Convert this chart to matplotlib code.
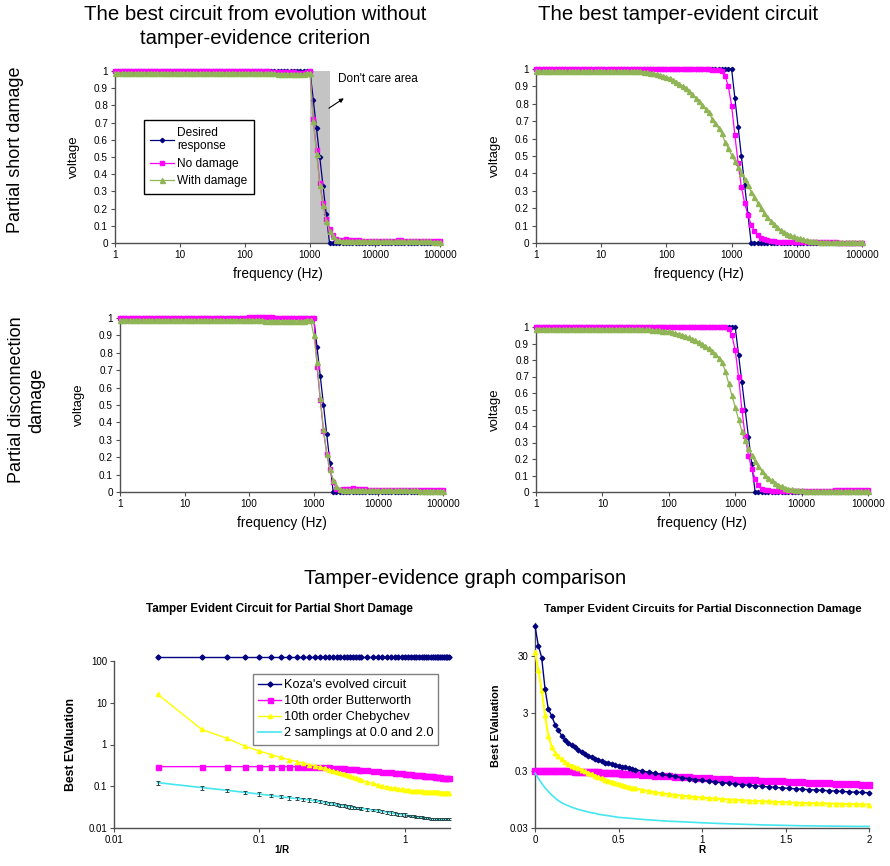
import numpy as np
import matplotlib
matplotlib.use('Agg')
import matplotlib.pyplot as plt
from matplotlib.ticker import NullLocator

plt.rcParams['font.family'] = ['Liberation Sans', 'DejaVu Sans']

# ---------------- data: frequency responses (20 samples per decade, 1 Hz .. 100 kHz)
freq = np.logspace(0, 5, 101)

desired = [
    1, 1, 1, 1, 1, 1, 1, 1, 1, 1, 1, 1, 1, 1, 1, 1, 1, 1, 1, 1,
    1, 1, 1, 1, 1, 1, 1, 1, 1, 1, 1, 1, 1, 1, 1, 1, 1, 1, 1, 1,
    1, 1, 1, 1, 1, 1, 1, 1, 1, 1, 1, 1, 1, 1, 1, 1, 1, 1, 1, 1,
    1, .833, .667, .5, .333, .167, 0, 0, 0, 0, 0, 0, 0, 0, 0, 0, 0, 0, 0, 0,
    0, 0, 0, 0, 0, 0, 0, 0, 0, 0, 0, 0, 0, 0, 0, 0, 0, 0, 0, 0,
    0]

# evolved without tamper-evidence, partial short damage
short_evo_nodmg = [
    1, 1, 1, 1, 1, 1, 1, 1, 1, 1, 1, 1, 1, 1, 1, 1, 1, 1, 1, 1,
    1, 1, 1, 1, 1, 1, 1, 1, 1, 1, 1, 1, 1, 1, 1, 1, 1, 1, 1, 1,
    1, 1, 1, 1, 1, 1, 1, 1, .995, .995, .995, .995, .995, .995, .995, .995, .99, .99, .99, .995,
    1, .72, .54, .35, .23, .14, .08, .045, .025, .02, .02, .022, .02, .02, .018, .015, .013, .012, .011, .01,
    .01, .01, .01, .011, .012, .013, .014, .015, .015, .014, .013, .012, .012, .011, .011, .01, .01, .01, .01, .01,
    .01]
short_evo_dmg = [
    .99, .99, .99, .99, .99, .99, .99, .99, .99, .99, .99, .99, .99, .99, .99, .99, .99, .99, .99, .99,
    .99, .99, .99, .99, .99, .99, .99, .99, .99, .99, .99, .99, .99, .99, .99, .99, .99, .99, .99, .99,
    .99, .99, .99, .99, .99, .988, .988, .988, .988, .988, .985, .985, .985, .985, .985, .985, .98, .98, .985, .99,
    .99, .71, .52, .34, .22, .13, .07, .04, .02, .015, .013, .012, .012, .012, .012, .012, .012, .012, .012, .012,
    .011, .011, .01, .01, .01, .01, .01, .01, .01, .01, .01, .01, .01, .01, .009, .009, .009, .009, .008, .008,
    .008]

# tamper-evident circuit, partial short damage
short_te_nodmg = [
    1, 1, 1, 1, 1, 1, 1, 1, 1, 1, 1, 1, 1, 1, 1, 1, 1, 1, 1, 1,
    1, 1, 1, 1, 1, 1, 1, 1, 1, 1, 1, 1, 1, 1, 1, 1, 1, 1, 1, 1,
    1, 1, 1, 1, 1, 1, 1, 1, 1, 1, 1, 1, 1, 1, .997, .995, .995, .99, .96, .90,
    .79, .62, .46, .32, .23, .16, .105, .07, .045, .03, .022, .016, .012, .01, .008, .007, .006, .005, .005, .004,
    .004, .004, .004, .004, .003, .003, .003, .003, .003, .003, .003, .003, .003, .002, .002, .002, .002, .002, .002, .002,
    .002]
short_te_dmg = [
    .99, .99, .99, .99, .99, .99, .99, .99, .99, .99, .99, .99, .99, .99, .99, .99, .99, .99, .99, .99,
    .99, .99, .99, .99, .99, .99, .99, .99, .99, .99, .99, .99, .987, .985, .982, .979, .975, .971, .966, .961,
    .955, .947, .938, .928, .916, .903, .888, .872, .855, .835, .815, .795, .772, .75, .715, .69, .66, .63, .58, .545,
    .505, .47, .438, .405, .368, .332, .295, .263, .23, .20, .172, .15, .128, .11, .09, .077, .065, .054, .045, .038,
    .031, .026, .021, .017, .014, .011, .009, .008, .007, .006, .005, .005, .004, .004, .004, .004, .003, .003, .003, .003,
    .003]

# evolved without tamper-evidence, partial disconnection damage
disc_evo_nodmg = [
    1, 1, 1, 1, 1, 1, 1, 1, 1, 1, 1, 1, 1, 1, 1, 1, 1, 1, 1, 1,
    1, 1, 1, 1, 1, 1, 1, 1, 1, 1, 1, 1, 1, 1, 1, 1, 1, 1, 1, 1,
    1.003, 1.003, 1.003, 1.003, 1.003, 1.003, 1.003, 1.003, 1, 1, 1, 1, 1, 1, 1, 1, 1, 1, 1, 1,
    1, .72, .53, .35, .22, .13, .06, .02, .01, .015, .02, .02, .022, .02, .02, .018, .015, .012, .01, .01,
    .01, .01, .01, .01, .01, .01, .01, .011, .011, .012, .012, .012, .012, .011, .011, .01, .01, .01, .01, .01,
    .01]
disc_evo_dmg = [
    .99, .99, .99, .99, .99, .99, .99, .99, .99, .99, .99, .99, .99, .99, .99, .99, .99, .99, .99, .99,
    .99, .99, .99, .99, .99, .99, .99, .99, .99, .99, .99, .99, .99, .99, .99, .99, .99, .99, .99, .99,
    .99, .99, .99, .99, .99, .985, .985, .985, .985, .985, .985, .985, .985, .985, .985, .985, .98, .985, .99, .99,
    .90, .75, .54, .36, .22, .13, .07, .035, .015, .01, .01, .01, .01, .01, .01, .01, .01, .01, .01, .01,
    .01, .01, .01, .01, .01, .009, .009, .009, .009, .009, .009, .009, .009, .008, .008, .008, .008, .008, .008, .008,
    .008]

# tamper-evident circuit, partial disconnection damage
disc_te_nodmg = [
    1, 1, 1, 1, 1, 1, 1, 1, 1, 1, 1, 1, 1, 1, 1, 1, 1, 1, 1, 1,
    1, 1, 1, 1, 1, 1, 1, 1, 1, 1, 1, 1, 1, 1, 1, 1, 1, 1, 1, 1.003,
    1.003, 1.003, 1.003, 1.003, 1.003, 1.003, 1.003, 1, 1, 1, 1, 1, 1, 1, 1, 1, 1, 1, .99, .95,
    .86, .70, .50, .34, .22, .14, .08, .04, .02, .012, .01, .009, .008, .008, .008, .008, .008, .008, .008, .008,
    .008, .008, .008, .008, .008, .009, .009, .009, .009, .009, .01, .01, .01, .01, .01, .01, .01, .01, .01, .01,
    .01]
disc_te_dmg = [
    .99, .99, .99, .99, .99, .99, .99, .99, .99, .99, .99, .99, .99, .99, .99, .99, .99, .99, .99, .99,
    .99, .99, .99, .99, .99, .99, .99, .99, .99, .99, .99, .99, .988, .986, .985, .983, .981, .979, .977, .975,
    .973, .969, .964, .958, .952, .945, .937, .929, .92, .909, .897, .884, .87, .855, .838, .815, .785, .735, .66, .585,
    .515, .44, .37, .315, .268, .222, .185, .155, .128, .105, .087, .07, .056, .045, .035, .027, .021, .017, .014, .012,
    .01, .009, .009, .008, .008, .008, .007, .007, .007, .007, .006, .006, .006, .006, .006, .006, .006, .006, .006, .006,
    .006]

# ---------------- data: tamper-evidence comparison, partial short damage (x = 1/R)
inv_r = [0.02, 0.04, 0.06, 0.08, 0.10, 0.12, 0.14, 0.16, 0.18, 0.20, 0.22, 0.24, 0.26, 0.28, 0.30,
         0.32, 0.34, 0.36, 0.38, 0.40, 0.42, 0.44, 0.46, 0.48, 0.50,
         0.55, 0.60, 0.65, 0.70, 0.75, 0.80, 0.85, 0.90, 0.95, 1.00, 1.05, 1.10, 1.15, 1.20, 1.25,
         1.30, 1.35, 1.40, 1.45, 1.50, 1.55, 1.60, 1.65, 1.70, 1.75, 1.80, 1.85, 1.90, 1.95, 2.00]
short_koza = [128] * 55
short_butter = [.295, .295, .295, .295, .295, .295, .295, .295, .295, .295, .293, .29, .288, .285, .282,
                .278, .275, .271, .267, .263, .26, .256, .253, .25, .247,
                .241, .235, .229, .224, .219, .215, .211, .207, .204, .20, .197, .194, .191, .188, .185,
                .182, .18, .178, .176, .174, .172, .17, .168, .166, .164, .162, .161, .16, .159, .158]
short_cheby = [16, 2.3, 1.4, .9, .70, .57, .49, .43, .39, .36, .33, .31, .29, .27, .25,
               .235, .222, .21, .197, .185, .175, .165, .155, .147, .14,
               .127, .117, .108, .101, .096, .092, .089, .086, .084, .082, .081, .079, .078, .077, .076,
               .075, .0745, .074, .0735, .073, .0725, .072, .0715, .071, .0708, .0705, .0703, .070, .070, .070]
short_two = [.122, .093, .080, .071, .065, .060, .056, .053, .051, .049, .047, .045, .043, .041, .039,
             .038, .036, .035, .034, .033, .032, .031, .0305, .030, .0295,
             .028, .027, .026, .025, .024, .023, .0222, .0215, .021, .0205, .020, .0195, .019, .0186, .0182,
             .0179, .0176, .0173, .017, .0168, .0166, .0165, .0164, .0163, .0163, .0162, .0162, .0162, .0162, .0162]
short_two_err = [.015, .010, .008, .007, .006, .006, .005, .005, .005, .004, .004, .004, .004, .004, .003,
                 .003, .003, .003, .003, .003, .003, .002, .002, .002, .002,
                 .002, .002, .002, .002, .002, .002, .002, .002, .002, .002, .001, .001, .001, .001, .001,
                 .001, .001, .001, .001, .001, .001, .001, .001, .001, .001, .001, .001, .001, .001, .001]

# ---------------- data: tamper-evidence comparison, partial disconnection damage (x = R)
r_vals = [0.00, 0.02, 0.04, 0.06, 0.08, 0.10, 0.12, 0.14, 0.16, 0.18, 0.20, 0.22, 0.24, 0.26, 0.28, 0.30,
          0.32, 0.34, 0.36, 0.38, 0.40, 0.42, 0.44, 0.46, 0.48, 0.50, 0.52, 0.54, 0.56, 0.58, 0.60,
          0.64, 0.68, 0.72, 0.76, 0.80, 0.84, 0.88, 0.92, 0.96, 1.00, 1.04, 1.08, 1.12, 1.16, 1.20,
          1.24, 1.28, 1.32, 1.36, 1.40, 1.44, 1.48, 1.52, 1.56, 1.60, 1.64, 1.68, 1.72, 1.76, 1.80,
          1.84, 1.88, 1.92, 1.96, 2.00]
disc_koza = [100, 45, 28, 8, 3.5, 2.7, 1.9, 1.5, 1.22, 1.04, .92, .83, .76, .69, .63, .58,
             .54, .51, .48, .455, .435, .415, .40, .385, .372, .36, .35, .34, .33, .32, .312,
             .296, .282, .27, .258, .247, .237, .227, .218, .21, .203, .197, .191, .185, .18, .175,
             .171, .167, .163, .159, .156, .153, .15, .147, .145, .142, .14, .138, .136, .134, .132,
             .13, .128, .126, .125, .123]
disc_butter = [.30, .299, .299, .298, .297, .296, .295, .294, .293, .292, .291, .29, .289, .288, .286, .284,
               .283, .282, .28, .279, .277, .276, .274, .272, .270, .268, .266, .264, .262, .26, .258,
               .254, .25, .246, .242, .238, .234, .231, .228, .225, .222, .219, .216, .213, .211, .208,
               .206, .204, .202, .2, .198, .196, .194, .192, .19, .188, .186, .184, .182, .18, .178,
               .176, .174, .172, .17, .168]
disc_cheby = [35, 17, 7.5, 2.8, 1.2, .78, .62, .53, .47, .42, .39, .365, .345, .33, .31, .29,
              .275, .26, .245, .232, .22, .21, .20, .19, .182, .175, .168, .162, .156, .151, .147,
              .139, .132, .126, .121, .117, .113, .11, .107, .104, .102, .10, .098, .096, .094, .093,
              .091, .09, .089, .088, .087, .086, .085, .084, .083, .082, .0815, .081, .0805, .080, .0795,
              .079, .0785, .078, .0775, .077]
disc_two = [.27, .22, .18, .15, .13, .113, .10, .09, .083, .077, .073, .069, .066, .063, .061, .059,
            .057, .055, .054, .052, .051, .050, .049, .048, .047, .046, .0455, .045, .0445, .044, .0435,
            .0425, .0415, .041, .040, .0395, .039, .0385, .038, .0375, .037, .0366, .0362, .0358, .0355, .0352,
            .0349, .0346, .0343, .034, .0338, .0336, .0334, .0332, .033, .0328, .0327, .0326, .0325, .0324, .0323,
            .0322, .0321, .032, .032, .032]

# ---------------- styling
NAVY = '#000080'
MAG = '#ff00ff'
GREEN = '#8fb556'
YEL = '#ffff00'
CYAN = '#45e6ee'
AXC = '#505050'

W, H = 890, 866
fig = plt.figure(figsize=(W / 100, H / 100), dpi=100)


def rect(l, t, r, b):
    return [l / W, 1 - b / H, (r - l) / W, (b - t) / H]


def style(ax, size=7):
    for s in ['top', 'right']:
        ax.spines[s].set_visible(False)
    for s in ['left', 'bottom']:
        ax.spines[s].set_color(AXC)
        ax.spines[s].set_linewidth(1.0)
    ax.tick_params(direction='out', length=3, width=0.8, color=AXC, labelsize=size, pad=2)


def freq_panel(r, nodmg, dmg):
    ax = fig.add_axes(rect(*r))
    ax.plot(freq, desired, color=NAVY, marker='D', ms=2.2, lw=0.9, clip_on=False, zorder=3,
            label='Desired\nresponse')
    ax.plot(freq, nodmg, color=MAG, marker='s', ms=3.2, lw=0.9, mec=MAG, clip_on=False, zorder=3,
            label='No damage')
    ax.plot(freq, dmg, color=GREEN, marker='^', ms=3.6, lw=0.9, mec=GREEN, clip_on=False, zorder=3,
            label='With damage')
    ax.set_xscale('log')
    ax.set_xlim(1, 1e5)
    ax.set_ylim(0, 1)
    ax.set_xticks([1, 10, 100, 1000, 10000, 100000])
    ax.set_xticklabels(['1', '10', '100', '1000', '10000', '100000'])
    ax.xaxis.set_minor_locator(NullLocator())
    ax.set_yticks([0, .1, .2, .3, .4, .5, .6, .7, .8, .9, 1])
    ax.set_yticklabels(['0', '0.1', '0.2', '0.3', '0.4', '0.5', '0.6', '0.7', '0.8', '0.9', '1'])
    style(ax, 7.2)
    ax.set_xlabel('frequency (Hz)', fontsize=9.8, labelpad=5)
    ax.set_ylabel('voltage', fontsize=9.5, labelpad=10)
    return ax


ax1 = freq_panel((115, 71, 440, 243), short_evo_nodmg, short_evo_dmg)
ax1.axvspan(1000, 2000, color='#c4c4c4', zorder=0, lw=0)
ax1.legend(loc='upper left', bbox_to_anchor=(0.089, 0.715), fontsize=8.6, frameon=True,
           fancybox=False, edgecolor='black', framealpha=1, handlelength=2.0, handletextpad=0.25,
           labelspacing=0.45, borderpad=0.55, borderaxespad=0)
ax1.annotate('', xy=(3600, 0.85), xytext=(1800, 0.775),
             arrowprops=dict(arrowstyle='-|>', color='black', lw=0.8, mutation_scale=6))
ax1.text(2700, 0.955, "Don't care area", fontsize=8.5, va='center', ha='left')

ax2 = freq_panel((536, 69, 862, 243), short_te_nodmg, short_te_dmg)
ax3 = freq_panel((120, 318, 443, 492), disc_evo_nodmg, disc_evo_dmg)
ax4 = freq_panel((536, 327, 868, 492), disc_te_nodmg, disc_te_dmg)

# ---- bottom-left
ax5 = fig.add_axes(rect(114, 661, 450, 828))
ax5.plot(inv_r, short_koza, color=NAVY, marker='D', ms=2.6, lw=1.0, clip_on=False, zorder=4,
         label="Koza's evolved circuit")
ax5.plot(inv_r, short_butter, color=MAG, marker='s', ms=3.6, lw=1.0, mec=MAG, clip_on=False, zorder=3,
         label='10th order Butterworth')
ax5.plot(inv_r, short_cheby, color=YEL, marker='^', ms=3.0, lw=1.0, mec=YEL, clip_on=False, zorder=3,
         label='10th order Chebychev')
ax5.plot(inv_r, short_two, color=CYAN, lw=1.2, clip_on=False, zorder=3,
         label='2 samplings at 0.0 and 2.0')
ax5.errorbar(inv_r, short_two, yerr=short_two_err, fmt='none', ecolor='#2a4a4a', elinewidth=0.7,
             capsize=1.3, capthick=0.7, zorder=4, clip_on=False)
ax5.set_xscale('log')
ax5.set_yscale('log')
ax5.set_xlim(0.01, 2.04)
ax5.set_ylim(0.01, 100)
ax5.set_xticks([0.01, 0.1, 1])
ax5.set_xticklabels(['0.01', '0.1', '1'])
ax5.set_yticks([0.01, 0.1, 1, 10, 100])
ax5.set_yticklabels(['0.01', '0.1', '1', '10', '100'])
ax5.xaxis.set_minor_locator(NullLocator())
ax5.yaxis.set_minor_locator(NullLocator())
style(ax5, 7)
ax5.set_xlabel('1/R', fontsize=7, weight='bold')
ax5.xaxis.set_label_coords(0.5, -0.1)
ax5.set_ylabel('Best EValuation', fontsize=8.8, weight='bold', labelpad=8)
ax5.legend(loc='upper left', bbox_to_anchor=(0.414, 0.922), fontsize=9.2, frameon=True,
           fancybox=False, edgecolor='#808080', framealpha=1, handlelength=1.8, handletextpad=0.2,
           labelspacing=0.32, borderpad=0.4, borderaxespad=0)

# ---- bottom-right
ax6 = fig.add_axes(rect(535, 623, 869, 828))
ax6.plot(r_vals, disc_koza, color=NAVY, marker='D', ms=2.4, lw=1.0, clip_on=False, zorder=4)
ax6.plot(r_vals, disc_butter, color=MAG, marker='s', ms=4.2, lw=1.8, mec=MAG, clip_on=False, zorder=3)
ax6.plot(r_vals, disc_cheby, color=YEL, marker='^', ms=3.2, lw=1.5, mec=YEL, clip_on=False, zorder=3)
ax6.plot(r_vals, disc_two, color=CYAN, lw=1.2, clip_on=False, zorder=3)
ax6.set_yscale('log')
ax6.set_xlim(0, 2)
ax6.set_ylim(0.03, 112)
ax6.set_xticks([0, 0.5, 1, 1.5, 2])
ax6.set_xticklabels(['0', '0.5', '1', '1.5', '2'])
ax6.set_yticks([0.03, 0.3, 3, 30])
ax6.set_yticklabels(['0.03', '0.3', '3', '30'])
ax6.yaxis.set_minor_locator(NullLocator())
style(ax6, 7)
ax6.set_xlabel('R', fontsize=7.2, weight='bold')
ax6.xaxis.set_label_coords(0.5, -0.085)
ax6.set_ylabel('Best EValuation', fontsize=7.8, weight='bold', labelpad=6)

# ---- headings
fig.text(255 / W, 1 - 15 / H, 'The best circuit from evolution without', ha='center', va='center', fontsize=14.7)
fig.text(255 / W, 1 - 39 / H, 'tamper-evidence criterion', ha='center', va='center', fontsize=14.7)
fig.text(678 / W, 1 - 15 / H, 'The best tamper-evident circuit', ha='center', va='center', fontsize=14.7)
fig.text(16 / W, 1 - 150 / H, 'Partial short damage', rotation=90, ha='center', va='center', fontsize=13)
fig.text(27 / W, 1 - 400 / H, 'Partial disconnection\ndamage', rotation=90, ha='center', va='center',
         fontsize=13, multialignment='center', linespacing=1.25)
fig.text(465 / W, 1 - 578 / H, 'Tamper-evidence graph comparison', ha='center', va='center', fontsize=14.5)
fig.text(279 / W, 1 - 609 / H, 'Tamper Evident Circuit for Partial Short Damage', ha='center', va='center',
         fontsize=8.4, weight='bold')
fig.text(703 / W, 1 - 609 / H, 'Tamper Evident Circuits for Partial Disconnection Damage', ha='center',
         va='center', fontsize=8.2, weight='bold')

fig.savefig('out.png', dpi=100)
